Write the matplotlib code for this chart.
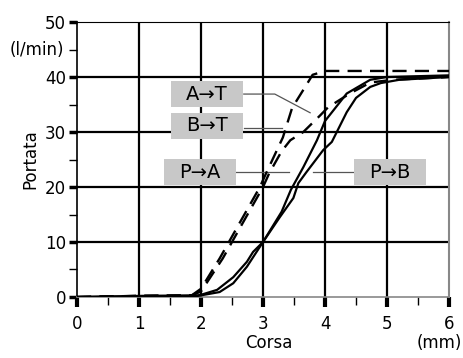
import matplotlib
matplotlib.use("Agg")
from matplotlib import pyplot as plt
from matplotlib.patches import Rectangle
from matplotlib.ticker import MultipleLocator

plt.rcParams['font.family'] = ['DejaVu Sans']

# curve tratteggiate A->T e B->T
at_x = [0, 1, 1.85, 2.0, 2.3, 2.6, 2.95, 3.05, 3.32, 3.47, 3.68, 3.8, 4.0, 6.0]
at_y = [0, 0.2, 0.3, 1.5, 7, 13, 20, 22.5, 29, 34.4, 38.2, 40.4, 41.1, 41.1]
bt_x = [0, 1, 1.85, 2.0, 2.35, 2.65, 3.0, 3.1, 3.3, 3.44, 3.65, 3.92, 4.05, 4.4, 4.6, 4.73, 5.1, 5.65, 6.0]
bt_y = [0, 0.2, 0.3, 1.0, 7, 13, 20, 22.5, 26.5, 28.5, 30, 33, 34.5, 37, 38.2, 39, 39.5, 39.8, 40]

# curve continue P->A e P->B
pa_x = [0, 1, 1.95, 2.0, 2.26, 2.52, 2.74, 2.84, 3.0, 3.3, 3.45, 3.65, 3.87, 4.0, 4.35, 4.73, 5.0, 6.0]
pa_y = [0, 0.2, 0.3, 0.4, 1.3, 3.6, 6.4, 8.2, 10, 15.5, 19.5, 23.6, 28.5, 32, 37, 39.5, 40, 40.3]
pb_x = [0, 1, 1.95, 2.0, 2.3, 2.52, 2.74, 3.0, 3.27, 3.49, 3.57, 3.7, 3.97, 4.11, 4.35, 4.5, 4.73, 4.9, 5.2, 6.0]
pb_y = [0, 0.1, 0.2, 0.3, 0.9, 2.5, 5.5, 10, 14.5, 18, 20.7, 22.7, 26.7, 28.2, 33.6, 36.2, 38.2, 38.9, 39.5, 40]

etichette = ["A→T", "B→T", "P→A", "P→B"]
pos_etichette = [(2.10, 36.9), (2.10, 31.1), (1.98, 22.7), (5.05, 22.7)]
# linee di richiamo (x, y)
richiami = [
    ([2.69, 3.19, 3.76], [36.9, 36.9, 33.5]),
    ([2.69, 3.31], [30.7, 30.7]),
    ([2.56, 3.42], [22.7, 22.7]),
    ([3.81, 4.47], [22.7, 22.7]),
]
larg_box, alt_box = 1.16, 4.7

fig = plt.figure(figsize=(4.63, 3.58), dpi=100)
ax = fig.add_axes([0.1663, 0.1704, 0.9698 - 0.1663, 0.9385 - 0.1704])

ax.set_xlim(0, 6)
ax.set_ylim(0, 50)

# griglia
for gx in [1, 2, 3, 4, 5]:
    ax.axvline(gx, color='black', lw=1.6, zorder=1)
for gy in [10, 20, 30, 40]:
    ax.axhline(gy, color='black', lw=1.6, zorder=1)

for xs, ys in richiami:
    ax.plot(xs, ys, color='#555555', lw=0.9, zorder=2)

ax.plot(at_x, at_y, color='black', lw=1.7, ls=(0, (6, 3.5)), zorder=3)
ax.plot(bt_x, bt_y, color='black', lw=1.7, ls=(0, (6, 3.5)), zorder=3)
ax.plot(pa_x, pa_y, color='black', lw=1.6, zorder=3)
ax.plot(pb_x, pb_y, color='black', lw=1.6, zorder=3)

for testo, (tx, ty) in zip(etichette, pos_etichette):
    ax.add_patch(Rectangle((tx - larg_box / 2, ty - alt_box / 2), larg_box, alt_box,
                           fc='#c8c8c8', ec='none', zorder=4))
    ax.text(tx, ty, testo, ha='center', va='center', fontsize=14, zorder=5)

# assi
ax.spines['left'].set_color('black')
ax.spines['left'].set_linewidth(1.2)
ax.spines['top'].set_color('black')
ax.spines['top'].set_linewidth(0.8)
ax.spines['right'].set_color('#888888')
ax.spines['right'].set_linewidth(1.5)
ax.spines['bottom'].set_color('#888888')
ax.spines['bottom'].set_linewidth(1.2)

ax.xaxis.set_major_locator(MultipleLocator(1))
ax.xaxis.set_minor_locator(MultipleLocator(0.5))
ax.yaxis.set_major_locator(MultipleLocator(10))
ax.yaxis.set_minor_locator(MultipleLocator(5))
ax.tick_params(axis='x', which='major', direction='out', length=7, width=3, pad=6, labelsize=12)
ax.tick_params(axis='x', which='minor', direction='out', length=6, width=1)
ax.tick_params(axis='y', which='major', direction='out', length=6, width=2.5, pad=2, labelsize=12)
ax.tick_params(axis='y', which='minor', direction='out', length=6, width=1)

ax.text(-0.2, 45.0, "(l/min)", ha='right', va='center', fontsize=12, clip_on=False)
ax.set_ylabel("Portata", fontsize=12, labelpad=4)
ax.text(3.1, -8.4, "Corsa", ha='center', va='center', fontsize=12, clip_on=False)
ax.text(5.85, -8.4, "(mm)", ha='center', va='center', fontsize=12, clip_on=False)

plt.savefig("out.png", dpi=100)
